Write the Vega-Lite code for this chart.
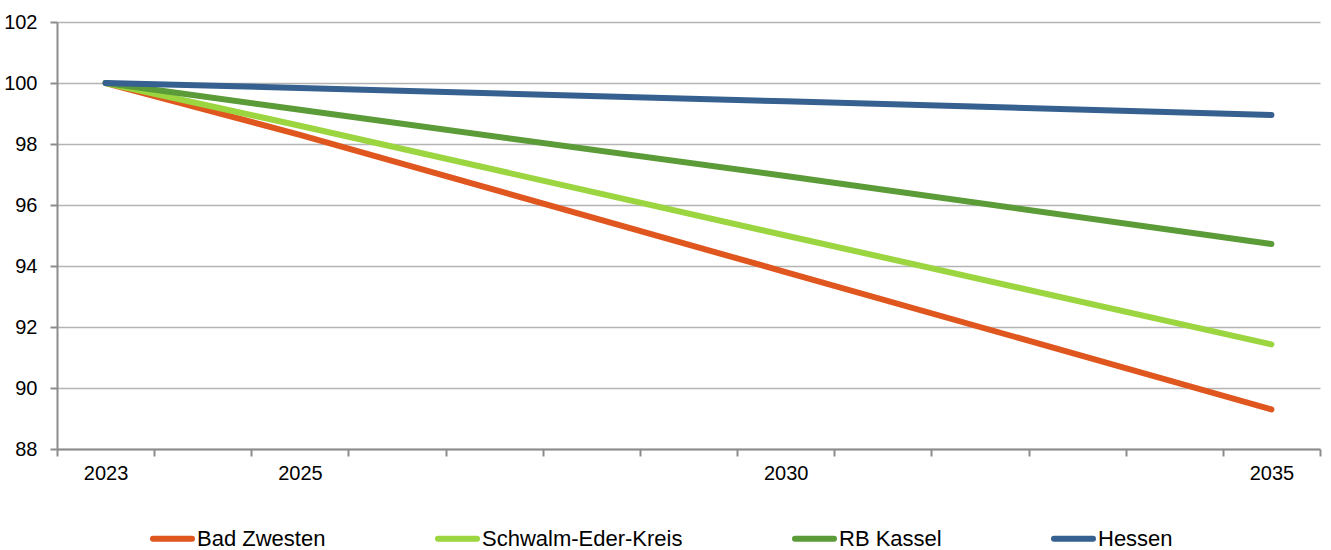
{
  "$schema": "https://vega.github.io/schema/vega-lite/v6.json",
  "autosize": "none",
  "width": 1263,
  "height": 427,
  "padding": {"left": 57, "top": 22, "right": 11, "bottom": 101},
  "background": "white",
  "config": {
    "view": {"stroke": null},
    "font": "Liberation Sans",
    "axis": {
      "labelFont": "Liberation Sans",
      "labelColor": "#000000",
      "domainColor": "#8c8c8c",
      "domainWidth": 2,
      "tickColor": "#8c8c8c",
      "tickWidth": 2,
      "tickSize": 7,
      "gridColor": "#b4b4b4",
      "gridWidth": 1.5,
      "title": null
    }
  },
  "data": {
    "values": [
      {"year": 2023, "region": "Bad Zwesten", "value": 100},
      {"year": 2025, "region": "Bad Zwesten", "value": 98.3},
      {"year": 2030, "region": "Bad Zwesten", "value": 93.8},
      {"year": 2035, "region": "Bad Zwesten", "value": 89.3},
      {"year": 2023, "region": "Schwalm-Eder-Kreis", "value": 100},
      {"year": 2025, "region": "Schwalm-Eder-Kreis", "value": 98.6},
      {"year": 2030, "region": "Schwalm-Eder-Kreis", "value": 95.0},
      {"year": 2035, "region": "Schwalm-Eder-Kreis", "value": 91.43},
      {"year": 2023, "region": "RB Kassel", "value": 100},
      {"year": 2025, "region": "RB Kassel", "value": 99.12},
      {"year": 2030, "region": "RB Kassel", "value": 96.95},
      {"year": 2035, "region": "RB Kassel", "value": 94.72},
      {"year": 2023, "region": "Hessen", "value": 100},
      {"year": 2025, "region": "Hessen", "value": 99.84},
      {"year": 2030, "region": "Hessen", "value": 99.4},
      {"year": 2035, "region": "Hessen", "value": 98.95}
    ]
  },
  "mark": {"type": "line", "strokeWidth": 6, "strokeCap": "round", "strokeJoin": "round"},
  "encoding": {
    "x": {
      "field": "year",
      "type": "quantitative",
      "scale": {"domain": [2022.5, 2035.5], "nice": false, "zero": false},
      "axis": {
        "grid": false,
        "tickCount": 100,
        "tickMinStep": 0.5,
        "values": [2022.5, 2023, 2023.5, 2024.5, 2025, 2025.5, 2026.5, 2027.5, 2028.5, 2029.5, 2030, 2030.5, 2031.5, 2032.5, 2033.5, 2034.5, 2035, 2035.5],
        "labelExpr": "datum.value % 1 === 0 ? '' + datum.value : ''",
        "labelOverlap": false,
        "labelFlush": false,
        "labelBound": false,
        "labelFontSize": 20,
        "labelPadding": 7,
        "tickOpacity": {"condition": {"test": "datum.value % 1 === 0", "value": 0}, "value": 1}
      }
    },
    "y": {
      "field": "value",
      "type": "quantitative",
      "scale": {"domain": [88, 102], "nice": false, "zero": false},
      "axis": {
        "values": [88, 90, 92, 94, 96, 98, 100, 102],
        "format": "d",
        "labelFontSize": 20,
        "labelPadding": 13,
        "domain": true
      }
    },
    "color": {
      "field": "region",
      "type": "nominal",
      "scale": {
        "domain": ["Bad Zwesten", "Schwalm-Eder-Kreis", "RB Kassel", "Hessen"],
        "range": ["#E0561F", "#9BD53F", "#5B9B38", "#35608F"]
      },
      "legend": {
        "title": null,
        "orient": "none",
        "direction": "horizontal",
        "legendX": 93,
        "legendY": 494,
        "padding": 0,
        "symbolType": "stroke",
        "symbolSize": 1521,
        "symbolStrokeWidth": 6,
        "labelOffset": 2,
        "labelFont": "Liberation Sans",
        "labelFontSize": 22,
        "labelColor": "#000000",
        "columnPadding": 100,
        "labelLimit": 400,
        "encode": {"symbols": {"update": {"strokeCap": {"value": "round"}}}}
      }
    }
  }
}
